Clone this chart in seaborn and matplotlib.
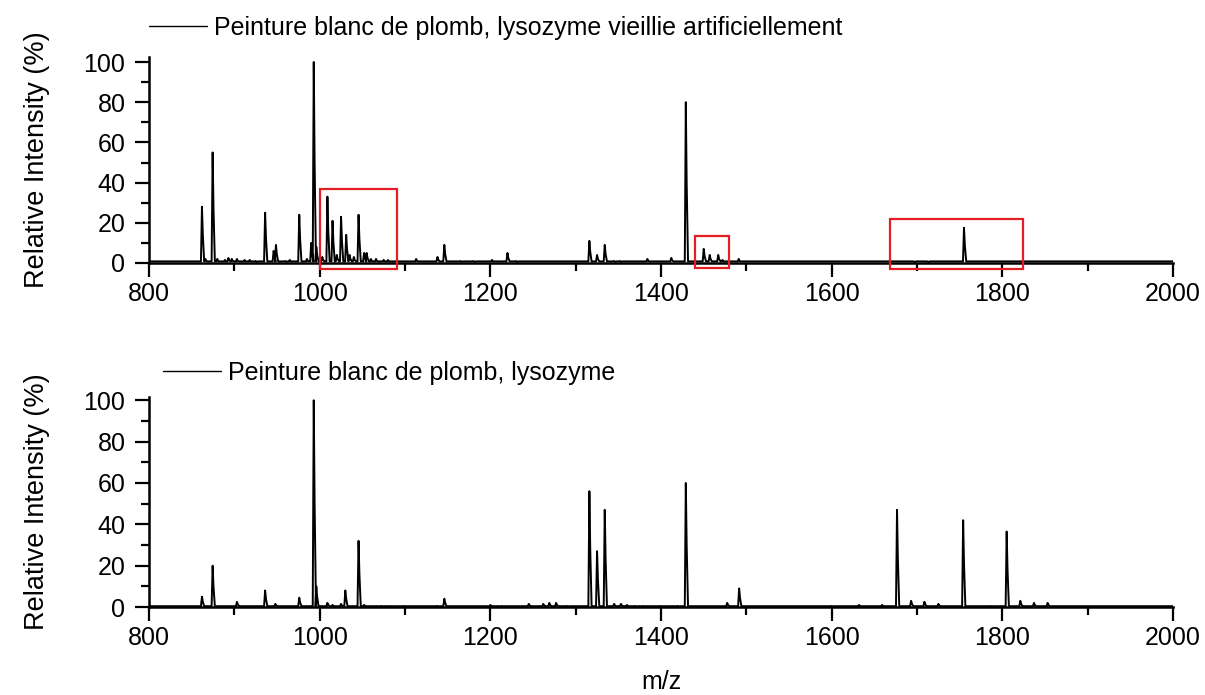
import matplotlib
matplotlib.use("Agg")
import matplotlib.pyplot as plt
from matplotlib.patches import Rectangle
from matplotlib.ticker import MultipleLocator
import pandas as pd
import seaborn as sns

# ---------------- data ----------------
top_label = "Peinture blanc de plomb, lysozyme vieillie artificiellement"
bot_label = "Peinture blanc de plomb, lysozyme"

top_mz = [862, 866, 874.5, 880, 889, 893, 897, 903, 912, 918, 925, 936, 946, 948.7,
          960, 965, 976, 985, 990, 993, 996, 1003, 1009, 1015, 1020, 1025, 1031, 1035,
          1040, 1045.5, 1052, 1055, 1060, 1066, 1075, 1080, 1113, 1138, 1146, 1165,
          1180, 1202, 1220, 1230, 1316, 1325, 1334, 1345, 1352, 1384, 1412, 1429,
          1450, 1457, 1467, 1472, 1491, 1696, 1712, 1755]
top_int = [28, 2, 55, 2, 1.5, 2.5, 2, 2, 1.5, 1.5, 1, 25, 6, 9,
           1, 1.5, 24, 2, 10, 100, 8, 3, 33, 21, 4, 23, 14, 4,
           3, 24, 5, 5, 2, 2, 1.5, 1.5, 2, 3, 9, 1,
           1, 1.5, 5, 1, 11, 4, 9, 1, 1, 2, 2.5, 80,
           7, 4, 4, 1.5, 2, 0.8, 0.8, 17.5]

bot_mz = [862, 874.5, 903, 936, 948, 976, 993, 996, 1009, 1015, 1025, 1030, 1045.5,
          1052, 1073, 1083, 1100, 1138, 1146, 1200, 1214, 1245, 1262, 1269, 1277,
          1290, 1316, 1325, 1334, 1345, 1353, 1360, 1370, 1380, 1400, 1420, 1429,
          1477.5, 1491.5, 1600, 1632, 1659, 1676.5, 1693, 1708.6, 1725, 1754, 1788,
          1805, 1821, 1837, 1853]
bot_int = [5, 20, 2.5, 8, 1.5, 4.5, 100, 10, 2, 1, 1.5, 8, 32,
           1, 0.5, 0.5, 0.5, 0.5, 4, 1, 0.5, 1.5, 1.5, 2, 2,
           0.5, 56, 27, 47, 1.5, 1.5, 1, 0.5, 0.5, 0.5, 0.5, 60,
           2, 9, 0.5, 1, 1, 47, 3, 2.5, 1.5, 42, 0.5,
           36.5, 3, 2, 2]

top_baseline = 0.8
bot_baseline = 0.4

x_ticks = [800, 1000, 1200, 1400, 1600, 1800, 2000]
y_ticks = [0, 20, 40, 60, 80, 100]

# highlighted regions in the upper spectrum (m/z range, intensity range)
box_mz_lo = [1000, 1440, 1668]
box_mz_hi = [1090, 1480, 1824]
box_int_lo = [-3, -2.6, -3]
box_int_hi = [36.7, 13.6, 21.7]


def spectrum_frame(mz, inten, base, lo=800, hi=2000):
    xs, ys = [lo], [base]
    for m, h in sorted(zip(mz, inten)):
        xs += [m - 1.2, m, m + 1.0, m + 2.6]
        ys += [base, h, 0.5 * h, base]
    xs.append(hi)
    ys.append(base)
    return pd.DataFrame({"mz": xs, "intensity": ys})


top_df = spectrum_frame(top_mz, top_int, top_baseline)
bot_df = spectrum_frame(bot_mz, bot_int, bot_baseline)

# ---------------- figure ----------------
sns.set_theme(style="ticks")
plt.rcParams["font.family"] = ["Liberation Sans", "DejaVu Sans"]
plt.rcParams["text.color"] = "black"
plt.rcParams["axes.labelcolor"] = "black"

fig = plt.figure(figsize=(12.05, 6.95), dpi=100)
ax_top = fig.add_axes([0.1237, 0.6216, 0.8498, 0.2964])
ax_bot = fig.add_axes([0.1237, 0.1266, 0.8498, 0.3022])

FS = 18
for ax, df, label, ytop, leg_x, leg_y in [
    (ax_top, top_df, top_label, 102.5, 0.0, 1.14),
    (ax_bot, bot_df, bot_label, 101.6, 0.0137, 1.114),
]:
    sns.lineplot(data=df, x="mz", y="intensity", ax=ax, color="black",
                 linewidth=1.4, sort=False, estimator=None, label=label)
    ax.set_xlim(800, 2000)
    ax.set_ylim(0, ytop)
    ax.set_xticks(x_ticks)
    ax.set_yticks(y_ticks)
    ax.xaxis.set_minor_locator(MultipleLocator(100))
    ax.yaxis.set_minor_locator(MultipleLocator(10))
    ax.tick_params(which="major", length=10, width=1.6, direction="out",
                   labelsize=FS, color="black", labelcolor="black", pad=4)
    ax.tick_params(axis="y", which="major", pad=7)
    ax.tick_params(which="minor", length=5.5, width=1.6, direction="out",
                   color="black")
    for s in ["left", "bottom"]:
        ax.spines[s].set_linewidth(1.8)
        ax.spines[s].set_color("black")
    sns.despine(ax=ax)
    ax.set_ylabel("Relative Intensity (%)", fontsize=19.5, labelpad=24,
                  color="black")
    ax.set_xlabel("")
    leg = ax.legend(loc="center left", bbox_to_anchor=(leg_x, leg_y),
                    frameon=False, fontsize=FS, handlelength=2.3,
                    handletextpad=0.3, borderpad=0, borderaxespad=0)
    for line in leg.get_lines():
        line.set_linewidth(1.0)
    for t in leg.get_texts():
        t.set_color("black")

ax_bot.set_xlabel("m/z", fontsize=FS, labelpad=14, color="black")

for x0, x1, y0, y1 in zip(box_mz_lo, box_mz_hi, box_int_lo, box_int_hi):
    ax_top.add_patch(Rectangle((x0, y0), x1 - x0, y1 - y0, fill=False,
                               edgecolor="#e31e24", linewidth=1.6,
                               clip_on=False, zorder=5))

fig.savefig("out.png", dpi=100)
